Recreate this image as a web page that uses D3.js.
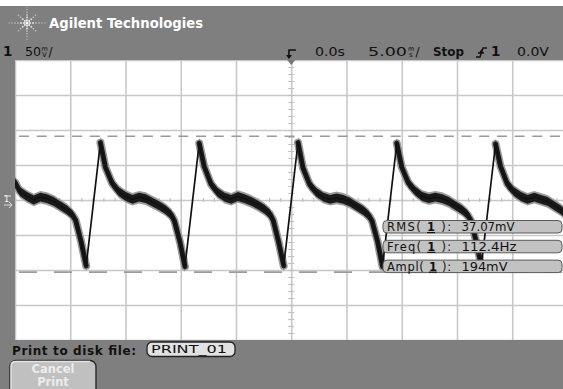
<!DOCTYPE html>
<html>
<head>
<meta charset="utf-8">
<script src="https://cdn.jsdelivr.net/npm/d3@7"></script>
<style>
  body { margin: 0; background: #fff; }
  svg { display: block; }
  text { font-family: "DejaVu Sans", sans-serif; }
</style>
</head>
<body>
<script>
// trace: time in ms (0 = trigger), voltage in mV
const traceTime = [
  -25, -24.55, -23.91, -23.31, -22.71, -22.11, -21.51, -20.91, -20.31, -19.81, -19.51, -19.01, -18.56, -17.27,
  -16.82, -16.21, -15.61, -14.97, -14.37, -13.77, -13.17, -12.57, -11.97, -11.37, -10.87, -10.57, -10.07, -9.62, -8.33,
  -7.88, -7.27, -6.67, -6.03, -5.43, -4.83, -4.23, -3.63, -3.03, -2.43, -1.93, -1.63, -1.13, -0.68, 0.61,
  1.06, 1.67, 2.27, 2.91, 3.51, 4.11, 4.71, 5.31, 5.91, 6.51, 7.01, 7.31, 7.81, 8.26, 9.55,
  10.0, 10.61, 11.21, 11.85, 12.45, 13.05, 13.65, 14.25, 14.85, 15.45, 15.95, 16.25, 16.75, 17.2, 18.49,
  18.94, 19.55, 20.15, 20.79, 21.39, 21.99, 22.59, 23.19, 23.79, 24.39, 24.89, 25.0
];
const traceMv = [
  25, 12, 5, 0, 4, 2, -2, -8, -14, -21, -29, -60, -94, 82,
  47, 24, 12, 5, 1, 4, 2, -3, -8, -14, -21, -30, -60, -95, 81,
  48, 23, 11, 4, 1, 5, 2, -2, -7, -13, -20, -29, -61, -94, 82,
  46, 22, 11, 4, 1, 3, 1, -3, -9, -15, -22, -30, -59, -95, 81,
  47, 24, 13, 5, 2, 4, 2, -2, -8, -14, -21, -29, -60, -94, 80,
  48, 23, 12, 5, 1, 4, 1, -2, -8, -14, -21, -24
];

// graticule: 10 x 5 ms, 8 x 50 mV
const timeDivs = [-25, -20, -15, -10, -5, 0, 5, 10, 15, 20, 25];
const voltDivs = [-200, -150, -100, -50, 0, 50, 100, 150, 200];
const cursorLevels = [91, -103];

const measNames = ["RMS", "Freq", "Ampl"];
const measValues = ["37.07mV", "112.4Hz", "194mV"];

const width = 563, height = 389;
const plot = { left: 15, top: 60, right: 567.5, bottom: 340 };

const x = d3.scaleLinear().domain([-25, 25]).range([plot.left, plot.right]);
const y = d3.scaleLinear().domain([-200, 200]).range([plot.bottom, plot.top]);

const svg = d3.select("body").append("svg")
  .attr("width", width)
  .attr("height", height);

// frame
const frame = "#7f7f7f";
svg.append("rect").attr("x", 0).attr("y", 6).attr("width", width).attr("height", height - 6).attr("fill", frame);
svg.append("rect").attr("x", plot.left).attr("y", plot.top)
  .attr("width", plot.right - plot.left).attr("height", plot.bottom - plot.top).attr("fill", "#fff");

svg.append("clipPath").attr("id", "screen").append("rect")
  .attr("x", plot.left).attr("y", plot.top)
  .attr("width", plot.right - plot.left).attr("height", plot.bottom - plot.top);

const screen = svg.append("g").attr("clip-path", "url(#screen)");

// grid lines
screen.append("g")
  .attr("transform", `translate(0,${plot.bottom})`)
  .call(d3.axisBottom(x).tickValues(timeDivs).tickSize(-(plot.bottom - plot.top)).tickFormat(""))
  .call(g => g.select(".domain").remove())
  .selectAll("line").attr("stroke", "#c8c8c8").attr("stroke-width", 1.6);

screen.append("g")
  .attr("transform", `translate(${plot.left},0)`)
  .call(d3.axisLeft(y).tickValues(voltDivs).tickSize(-(plot.right - plot.left)).tickFormat(""))
  .call(g => g.select(".domain").remove())
  .selectAll("line").attr("stroke", "#c8c8c8").attr("stroke-width", 1.6);

// minor ticks on centre cross
screen.append("g")
  .attr("transform", `translate(0,${y(0)})`)
  .call(d3.axisBottom(x).tickValues(d3.range(-25, 25.1, 1)).tickSize(2).tickFormat(""))
  .call(g => g.select(".domain").remove())
  .selectAll("line").attr("y1", -2).attr("stroke", "#c0c0c0").attr("stroke-width", 1.2);

screen.append("g")
  .attr("transform", `translate(${x(0)},0)`)
  .call(d3.axisLeft(y).tickValues(d3.range(-200, 200.1, 10)).tickSize(3).tickFormat(""))
  .call(g => g.select(".domain").remove())
  .selectAll("line").attr("x1", 3).attr("stroke", "#c0c0c0").attr("stroke-width", 1.2);

// cursors
screen.selectAll(".cursor")
  .data(cursorLevels)
  .join("line")
  .attr("class", "cursor")
  .attr("x1", plot.left + 4).attr("x2", plot.right)
  .attr("y1", d => y(d)).attr("y2", d => y(d))
  .attr("stroke", "#9a9a9a").attr("stroke-width", 1.6)
  .attr("stroke-dasharray", (d, i) => i === 0 ? "10,7.7" : "18,17");

// trace
const pts = traceTime.map((t, i) => [x(t), y(traceMv[i])]);

// the slow part of each cycle (peak -> trough) carries the noise band,
// the fast rising edge is only a thin line
const runs = [];
let run = [pts[0]];
for (let i = 1; i < pts.length; i++) {
  if (traceMv[i] - traceMv[i - 1] > 100) {
    runs.push(run);
    run = [pts[i]];
  } else {
    run.push(pts[i]);
  }
}
runs.push(run);

const band = h => d3.area().x(d => d[0]).y0(d => d[1] + h).y1(d => d[1] - h);
const line = d3.line();

const halo = screen.append("g").attr("fill", "#9b9b9b");
halo.selectAll("path.a").data(runs).join("path").attr("class", "a").attr("d", band(6.3));
halo.selectAll("path.s").data(runs).join("path").attr("class", "s").attr("d", line)
  .attr("fill", "none").attr("stroke", "#9b9b9b").attr("stroke-width", 8)
  .attr("stroke-linejoin", "round").attr("stroke-linecap", "round");

const core = screen.append("g").attr("fill", "#1b1b1b");
core.selectAll("path.a").data(runs).join("path").attr("class", "a").attr("d", band(4.4));
core.selectAll("path.s").data(runs).join("path").attr("class", "s").attr("d", line)
  .attr("fill", "none").attr("stroke", "#1b1b1b").attr("stroke-width", 5)
  .attr("stroke-linejoin", "round").attr("stroke-linecap", "round");

screen.append("path").datum(pts).attr("d", line)
  .attr("fill", "none").attr("stroke", "#111").attr("stroke-width", 1.7);

// trigger position marker
svg.append("path")
  .attr("d", `M${x(0) - 4},${plot.top} L${x(0) + 4},${plot.top} L${x(0)},${plot.top + 5} Z`)
  .attr("fill", "#777");

// measurement boxes
const meas = svg.append("g");
measNames.forEach((name, i) => {
  const top = 220.5 + i * 19.8;
  meas.append("rect")
    .attr("x", 383).attr("y", top).attr("width", 179).attr("height", 12.5)
    .attr("rx", 4).attr("fill", "#c2c2c2").attr("stroke", "#5a5a5a").attr("stroke-width", 1);
  const label = meas.append("text")
    .attr("x", 387).attr("y", top + 10.5)
    .attr("font-size", 11.5).attr("fill", "#111")
    .attr("textLength", 64).attr("lengthAdjust", "spacing");
  label.append("tspan").text(name + "( ");
  label.append("tspan").attr("font-weight", "bold").attr("text-decoration", "underline").text("1");
  label.append("tspan").text(" ):");
  meas.append("text")
    .attr("x", 461.5).attr("y", top + 10.5)
    .attr("font-size", 11.5).attr("fill", "#111")
    .attr("textLength", [53, 55, 46][i]).attr("lengthAdjust", "spacingAndGlyphs")
    .text(measValues[i]);
});

// header
svg.append("text")
  .attr("x", 49).attr("y", 28)
  .attr("font-family", "Liberation Sans, Arial, sans-serif")
  .attr("font-weight", "bold").attr("font-size", 14.5).attr("fill", "#fff")
  .attr("textLength", 154).attr("lengthAdjust", "spacingAndGlyphs")
  .text("Agilent Technologies");

// logo spark
const logo = svg.append("g").attr("transform", "translate(27,23)");
d3.range(8).forEach(k => {
  const a = k * Math.PI / 4;
  const R = k % 2 === 0 ? 19 : 14;
  d3.range(3, R, 3).forEach(r => {
    logo.append("circle")
      .attr("cx", Math.cos(a) * r).attr("cy", Math.sin(a) * r * 0.9)
      .attr("r", r < 8 ? 1 : 0.8)
      .attr("fill", "#fff").attr("opacity", 1 - r / (R + 8));
  });
});
logo.append("circle").attr("r", 1.6).attr("fill", "#fff");

const hdr = svg.append("g").attr("font-size", 12).attr("fill", "#111");
hdr.append("text").attr("x", 3).attr("y", 56).attr("font-weight", "bold").attr("font-size", 13.5).text("1");
hdr.append("text").attr("x", 25).attr("y", 56).attr("textLength", 16).attr("lengthAdjust", "spacingAndGlyphs").text("50");
hdr.append("text").attr("x", 41.5).attr("y", 50.5).attr("font-size", 6.5).text("m");
hdr.append("text").attr("x", 42).attr("y", 57).attr("font-size", 7).text("V");
hdr.append("text").attr("x", 48.5).attr("y", 56).text("/");

hdr.append("path")
  .attr("d", "M289,58 L289,50 L296,50")
  .attr("fill", "none").attr("stroke", "#111").attr("stroke-width", 1.6);
hdr.append("path").attr("d", "M286,55 L292,55 L289,59 Z").attr("fill", "#111");

hdr.append("text").attr("x", 315).attr("y", 56).attr("textLength", 30).attr("lengthAdjust", "spacingAndGlyphs").text("0.0s");
hdr.append("text").attr("x", 368).attr("y", 56).attr("textLength", 39).attr("lengthAdjust", "spacingAndGlyphs").text("5.00");
hdr.append("text").attr("x", 408).attr("y", 50.5).attr("font-size", 6.5).text("m");
hdr.append("text").attr("x", 409).attr("y", 57).attr("font-size", 7).text("s");
hdr.append("text").attr("x", 415.5).attr("y", 56).text("/");
hdr.append("text").attr("x", 433).attr("y", 56).attr("font-weight", "bold")
  .attr("textLength", 31).attr("lengthAdjust", "spacingAndGlyphs").text("Stop");

hdr.append("path")
  .attr("d", "M476,57 L480,57 L483,48 L487,48 M478,53 L484,53")
  .attr("fill", "none").attr("stroke", "#111").attr("stroke-width", 1.4);
hdr.append("path").attr("d", "M479,53 L483,53 L481.5,49 Z").attr("fill", "#111");
hdr.append("text").attr("x", 491).attr("y", 56).attr("font-weight", "bold").attr("font-size", 13.5).text("1");
hdr.append("text").attr("x", 517).attr("y", 56).attr("textLength", 32).attr("lengthAdjust", "spacingAndGlyphs").text("0.0V");

// channel ground marker on the left strip
svg.append("text").attr("x", 4).attr("y", 202).attr("font-size", 8).attr("fill", "#fff").text("1");
svg.append("path").attr("d", "M4,205 L12,205 M9,202 L12,205 L9,208 M4,196 L11,196")
  .attr("fill", "none").attr("stroke", "#ddd").attr("stroke-width", 1);

// bottom softkey area
svg.append("text").attr("x", 12).attr("y", 354.5)
  .attr("font-weight", "bold").attr("font-size", 12).attr("fill", "#111")
  .attr("textLength", 124).attr("lengthAdjust", "spacing")
  .text("Print to disk file:");
svg.append("rect").attr("x", 147).attr("y", 342).attr("width", 88).attr("height", 14.5)
  .attr("rx", 5).attr("fill", "#e2e2e2").attr("stroke", "#222").attr("stroke-width", 1.3);
svg.append("text").attr("x", 151).attr("y", 353)
  .attr("font-size", 11).attr("fill", "#111")
  .attr("textLength", 76).attr("lengthAdjust", "spacingAndGlyphs")
  .text("PRINT_01");

svg.append("rect").attr("x", 10).attr("y", 360.5).attr("width", 86).attr("height", 36)
  .attr("rx", 6).attr("fill", "#c0c0c0").attr("stroke", "#2a2a2a").attr("stroke-width", 1.4);
svg.append("path").attr("d", "M11,394 L11,366 Q11,361.5 16,361.5 L90,361.5")
  .attr("fill", "none").attr("stroke", "#e4e4e4").attr("stroke-width", 1.4);
svg.append("text").attr("x", 53).attr("y", 373).attr("text-anchor", "middle")
  .attr("font-weight", "bold").attr("font-size", 11.5).attr("fill", "#ececec").text("Cancel");
svg.append("text").attr("x", 53).attr("y", 386).attr("text-anchor", "middle")
  .attr("font-weight", "bold").attr("font-size", 11.5).attr("fill", "#ececec").text("Print");
</script>
</body>
</html>
